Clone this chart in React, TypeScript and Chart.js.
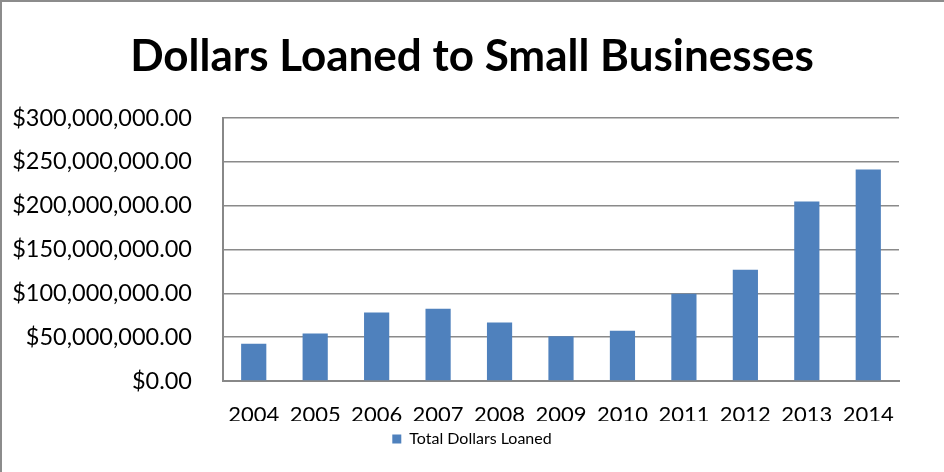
import React, { useEffect, useRef } from "react";
import { Chart, registerables } from "chart.js";

Chart.register(...registerables);

const years = ["2004", "2005", "2006", "2007", "2008", "2009", "2010", "2011", "2012", "2013", "2014"];
const totalDollarsLoaned = [42600000, 54100000, 78000000, 82500000, 66600000, 51000000, 57400000, 99400000, 127000000, 204700000, 241200000];
const seriesName = "Total Dollars Loaned";
const chartTitle = "Dollars Loaned to Small Businesses";
const yMin = 0;
const yMax = 300000000;
const yStep = 50000000;

const FONT = "Lato, 'Open Sans', 'DejaVu Sans', sans-serif";

export default function App() {
  const ref = useRef<HTMLCanvasElement | null>(null);

  useEffect(() => {
    if (!ref.current) return;
    const chart = new Chart(ref.current, {
      type: "bar",
      data: {
        labels: years,
        datasets: [
          {
            label: seriesName,
            data: totalDollarsLoaned,
            backgroundColor: "#4F81BD",
            borderWidth: 0,
            barPercentage: 0.41,
            categoryPercentage: 1,
            yAxisID: "y",
          },
        ],
      },
      options: {
        responsive: false,
        animation: false,
        layout: { padding: { left: 0, right: 0, top: 0, bottom: 15 } },
        plugins: {
          title: {
            display: true,
            text: chartTitle,
            color: "#000",
            font: { family: FONT, size: 44, weight: "bold", lineHeight: 1.2 },
            padding: { top: 30, bottom: 35.2 },
          },
          legend: {
            display: true,
            position: "bottom",
            labels: {
              color: "#000",
              font: { family: FONT, size: 16 },
              boxWidth: 9,
              boxHeight: 9,
              padding: 10,
            },
          },
          tooltip: { enabled: false },
        },
        scales: {
          x: {
            grid: { display: false, drawTicks: false },
            border: { display: true, color: "#888", width: 2 },
            afterFit: (scale: any) => {
              scale.height = 40;
            },
            ticks: {
              color: "#000",
              font: { family: FONT, size: 22 },
              autoSkip: false,
              maxRotation: 0,
              minRotation: 0,
              padding: 21,
            },
          },
          y: {
            min: yMin,
            max: yMax,
            afterFit: (scale: any) => {
              scale.width = 223;
            },
            grid: { color: "#8a8a8a", lineWidth: 1.5, drawTicks: false },
            border: { display: true, color: "#888", width: 2 },
            ticks: {
              stepSize: yStep,
              color: "#000",
              padding: 31,
              font: { family: FONT, size: 23.5 },
              callback: (v: any) =>
                "$" + Number(v).toLocaleString("en-US", { minimumFractionDigits: 2, maximumFractionDigits: 2 }),
            },
          },
          rightSpace: {
            type: "linear",
            position: "right",
            display: true,
            min: yMin,
            max: yMax,
            grid: { display: false, drawTicks: false },
            border: { display: false },
            ticks: { display: false },
            afterFit: (scale: any) => {
              scale.width = 45;
            },
          },
        },
      },
    });
    return () => chart.destroy();
  }, []);

  return (
    <div style={{ position: "absolute", left: 0, top: 0, width: 944, height: 472, background: "#fff" }}>
      <canvas ref={ref} width={944} height={472} style={{ position: "absolute", left: 0, top: 0 }} />
      <div
        style={{
          position: "absolute",
          left: 0,
          top: 0,
          width: 944,
          height: 472,
          boxSizing: "border-box",
          borderTop: "2px solid #8c8c8c",
          borderLeft: "2px solid #8c8c8c",
          pointerEvents: "none",
        }}
      />
    </div>
  );
}
